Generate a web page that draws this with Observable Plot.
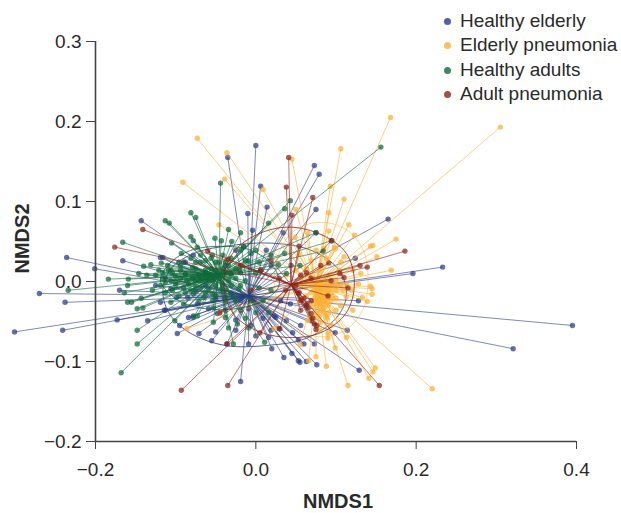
<!DOCTYPE html>
<html><head><meta charset="utf-8">
<script src="https://cdn.jsdelivr.net/npm/d3@7"></script>
<script src="https://cdn.jsdelivr.net/npm/@observablehq/plot@0.6"></script>
<style>
html,body{margin:0;padding:0;background:#fff}
#wrap{position:relative;width:621px;height:513px;font-family:"Liberation Sans",Arial,sans-serif}
#legend{position:absolute;left:444px;top:9px;font-size:19px;color:#2a2a2a;line-height:24.3px}
#legend div{white-space:nowrap}
#legend i{display:inline-block;width:7px;height:7px;border-radius:50%;margin-right:9px;vertical-align:2px}
</style></head><body><div id="wrap"><div id="legend"></div></div>
<script>
const groups = ["Healthy elderly","Elderly pneumonia","Healthy adults","Adult pneumonia"];
const colors = ["#2b3a86","#fbb034","#0f6a3a","#8c2318"];
const centroidX = [-0.009,0.075,-0.046,0.044];
const centroidY = [-0.018,-0.005,0.008,-0.004];

const elderlyPts = [[-.236,.030],[-.201,.016],[-.270,-.015],[-.238,-.026],[-.301,-.063],[-.241,-.061],[-.173,-.048],[-.166,.026],[-.143,.076],[-.170,-.011],[-.135,-.049],[-.098,-.065],[-.095,-.055],[-.071,-.065],[-.114,-.036],[-.119,-.026],[-.084,-.045],[-.090,.024],[-.116,.030],[.395,-.055],[.321,-.084],[.233,.018],[.196,.010],[.073,.145],[.079,.134],[.075,.090],[.165,.078],[0,.170],[-.035,.155],[.006,.119],[.014,.093],[-.010,.085],[-.055,-.074],[-.050,-.063],[-.036,-.078],[-.009,-.078],[.020,-.084],[.035,-.095],[.045,-.090],[.060,-.078],[.053,-.073],[.073,-.078],[.128,-.024],[.046,-.064],[.029,-.059],[.025,-.045],[.043,-.028],[.124,.029],[.114,-.061],[.099,-.064],[.075,.061],[.034,.061],[-.004,.064],[-.119,.030],[-.113,.004],[-.099,-.020],[-.073,-.028],[-.059,-.034],[-.009,-.034],[.009,-.046],[.053,-.099],[.055,-.101],[.063,-.100],[.076,-.104],[.129,-.111],[-.019,-.125],[.016,-.070],[.023,-.043],[-.075,-.012],[-.050,-.022],[-.038,-.036],[-.025,-.048],[-.019,-.024],[-.113,-.036],[-.078,-.043],[-.085,-.020],[-.031,-.014],[-.048,-.040],[-.019,-.036],[-.088,.024],[-.078,.033],[-.006,-.055],[-.025,-.061],[.038,-.049],[.056,-.055],[.019,-.061],[0,-.068],[.069,-.049],[.031,-.024],[.063,-.030],[-.038,.020],[-.025,.039],[.019,.020],[.013,.039],[.044,.020],[-.125,-.005],[-.063,-.005],[-.106,-.009]];
const elderlyPneumoniaPts = [[.168,.205],[.305,.193],[.106,.166],[.045,.153],[.093,.119],[.110,.103],[.091,.086],[.116,.071],[.091,.063],[.123,.058],[.175,.053],[.146,.045],[.143,.044],[.151,.031],[.169,.014],[.131,.010],[.110,.031],[.099,.041],[.065,.060],[.050,.090],[.049,.055],[-.073,.179],[-.036,.161],[-.091,.124],[-.039,.128],[.009,.115],[-.046,.071],[.220,-.134],[.115,-.130],[.141,-.121],[.146,-.113],[.149,-.108],[.088,-.106],[.066,-.099],[.075,-.094],[.099,-.083],[.090,-.071],[.113,-.070],[.055,-.079],[.090,-.065],[.023,-.059],[.139,-.025],[.145,-.016],[.133,-.020],[.143,-.006],[.145,-.009],[.128,-.003],[.085,.041],[.098,.043],[-.086,-.059],[-.045,-.039],[.054,.034],[.069,.026],[.073,-.011],[.079,-.018],[.084,-.024],[.076,-.030],[.081,-.036],[.088,-.043],[.075,-.039],[.094,-.014],[.100,-.021],[.106,-.030],[.089,-.005],[.100,.001],[.113,-.003],[.091,.008],[.104,.014],[.079,.014],[.066,.008],[.119,-.011],[.073,-.046],[.081,-.051],[.094,-.055],[.079,-.061],[.065,-.049],[.056,-.024],[.060,-.005],[.121,-.036],[.109,-.011],[.084,-.009],[.088,-.014],[.081,-.019],[.086,-.024],[.080,-.028],[.085,-.033],[.090,-.019],[.079,-.009],[.094,-.024],[.090,-.030],[.100,-.011],[.075,-.021],[.071,-.030],[.069,-.014],[.106,-.005],[.094,-.005],[.081,-.001],[.056,.004],[.069,.001],[.050,-.005],[.063,-.018],[.100,-.036],[.091,-.039],[.113,-.019],[.121,.014],[.106,.024],[.088,.029],[.075,.039],[.063,.016],[.050,.014],[.038,.008],[.076,-.009],[.081,-.014],[.079,-.024],[.084,-.029],[.089,-.024],[.084,-.019],[.076,-.016],[.074,-.024],[.091,-.011],[.096,-.018],[.069,-.006],[.063,-.001],[.056,-.004],[.088,.001],[.100,-.004],[.084,-.039],[.079,-.044],[.089,-.046]];
const adultsPts = [[-.168,-.114],[-.148,-.078],[-.148,-.061],[-.101,-.049],[-.234,-.011],[-.184,.003],[-.159,.003],[-.160,-.026],[-.155,-.026],[-.148,-.034],[-.141,-.033],[-.164,-.014],[-.160,-.005],[-.146,.010],[-.136,.008],[-.140,.019],[-.131,.021],[-.166,.049],[-.105,.048],[-.113,.076],[-.108,.073],[-.081,.086],[-.075,.080],[-.081,.056],[-.078,.051],[-.093,.035],[-.116,.011],[-.118,.023],[-.044,.123],[.043,.101],[.036,.091],[-.034,.065],[.016,.073],[.156,.168],[.075,.061],[.095,.051],[.084,.038],[.055,.020],[.036,.035],[.038,.010],[.028,.021],[-.051,.054],[-.043,.051],[-.030,.050],[-.019,.061],[-.015,.044],[-.143,-.021],[-.073,-.043],[-.078,-.045],[-.053,-.051],[-.038,-.045],[-.034,-.058],[-.023,-.053],[-.028,-.078],[.011,-.076],[-.009,-.058],[-.106,.014],[-.100,-.001],[-.094,.020],[-.088,.008],[-.081,-.011],[-.075,.016],[-.069,.001],[-.063,.014],[-.063,-.014],[-.096,-.018],[-.081,.029],[-.069,.033],[-.056,.029],[-.038,.024],[-.025,.016],[-.019,-.005],[-.029,-.018],[-.038,-.024],[-.054,-.024],[-.071,-.024],[-.013,.026],[0,.039],[.006,.014],[.019,.033],[-.031,.008],[-.050,-.005],[-.041,.016],[-.059,.001],[-.044,-.011],[-.073,.043],[-.054,.033],[-.041,.033],[-.110,.020],[-.094,.014],[-.109,.014],[-.104,.010],[-.088,.010],[-.079,.018],[-.031,.010],[-.021,.014],[-.010,.026],[-.006,.035],[-.015,.043],[-.113,-.001],[-.119,-.005],[-.100,-.005],[-.090,-.008],[-.106,-.026],[-.090,-.028],[-.113,-.014],[-.078,-.015],[-.065,-.020],[-.053,-.033],[-.038,-.020],[-.021,-.009],[-.013,.001],[0,.010],[.004,.024],[.004,-.008],[-.025,-.024],[-.075,.001],[-.056,.016],[-.069,.024],[-.084,-.003],[-.096,.024],[-.125,.008],[-.129,-.011],[-.050,.024],[-.054,-.015],[-.031,.029],[-.019,.039],[.009,-.024],[.019,-.011],[-.006,-.024],[0,-.039],[-.013,-.046],[.016,-.039],[-.063,.011],[-.056,.008],[-.054,.001],[-.038,.011],[-.034,.001],[-.041,-.005],[-.050,.014],[-.063,.001],[-.071,.008],[-.079,.004],[-.086,.001],[-.094,.004],[-.100,.006],[-.106,.001],[-.069,-.008],[-.059,-.009],[-.031,-.005],[-.025,.004],[-.019,.011],[-.038,-.011],[-.050,-.018],[-.075,-.008],[-.088,-.014],[-.104,-.011],[-.116,.004],[-.121,.014],[-.046,.024],[-.034,.020],[-.063,.026],[-.075,.024]];
const adultPneumoniaPts = [[-.176,.043],[-.141,.065],[-.093,-.136],[-.035,-.130],[-.045,-.039],[.005,-.064],[.154,-.130],[.030,-.059],[.041,.155],[.038,.118],[.071,.105],[.045,.083],[.186,.038],[.139,.018],[.091,.023],[.054,.044],[.105,.010],[-.036,-.078],[-.035,.028],[-.060,.038],[.029,.004],[.053,-.015],[.065,-.033],[.069,-.040],[.073,-.053],[.094,.051],[.115,-.008],[.006,.014],[.050,-.005],[.063,.011],[.081,.020],[.037,-.011],[.069,-.024],[.056,-.036],[.094,.001],[-.006,-.011],[-.019,.020],[.019,.026],[.075,-.060],[.090,-.018],[.110,.005],[.130,.020],[.054,-.014],[.060,-.021],[.064,-.028],[.056,-.024],[.071,-.046],[.076,-.055],[.056,.008],[.069,.004]];

// outlines of the dispersion ellipses, read around each curve
const elderlyOutline = [[-.116,-.014],[-.106,.016],[-.075,.036],[-.031,.045],[.019,.048],[.069,.039],[.104,.014],[.113,-.018],[.100,-.046],[.063,-.071],[.013,-.080],[-.038,-.080],[-.081,-.065],[-.106,-.043]];
const elderlyPneumoniaOutline = [[.081,.074],[.113,.065],[.134,.039],[.140,.003],[.134,-.034],[.113,-.060],[.081,-.069],[.050,-.060],[.030,-.034],[.023,.003],[.030,.039],[.050,.065]];
const adultsOutline = [[-.119,.001],[-.106,.024],[-.081,.039],[-.044,.044],[-.006,.039],[.021,.020],[.029,-.005],[.009,-.024],[-.025,-.034],[-.063,-.034],[-.096,-.024]];
const adultPneumoniaOutline = [[.041,.068],[.083,.058],[.113,.035],[.123,-.001],[.113,-.039],[.081,-.064],[.041,-.070],[0,-.061],[-.029,-.039],[-.040,-.001],[-.029,.035],[0,.058]];

const allPts = [elderlyPts,elderlyPneumoniaPts,adultsPts,adultPneumoniaPts];
const allOutlines = [elderlyOutline,elderlyPneumoniaOutline,adultsOutline,adultPneumoniaOutline];

const marks = [];
groups.forEach((g,i)=>{
  const rows = allPts[i].map(([x,y])=>({x,y}));
  marks.push(Plot.line(allOutlines[i],{x:d=>d[0],y:d=>d[1],curve:"catmull-rom-closed",stroke:colors[i],strokeWidth:1,strokeOpacity:i===1?0.5:0.8}));
  marks.push(Plot.link(rows,{x1:()=>centroidX[i],y1:()=>centroidY[i],x2:"x",y2:"y",stroke:colors[i],strokeWidth:1,strokeOpacity:0.6}));
  marks.push(Plot.dot(rows,{x:"x",y:"y",r:2.7,fill:colors[i],fillOpacity:0.72,stroke:"none"}));
});

const fmt = d3.format(".1f");
const plot = Plot.plot({
  width:621,height:513,marginLeft:95,marginRight:45,marginTop:41,marginBottom:72,
  style:{fontFamily:'"Liberation Sans",Arial,sans-serif',background:"transparent",overflow:"visible"},
  x:{domain:[-0.2,0.4]},y:{domain:[-0.2,0.3]},
  marks:[
    ...marks,
    Plot.ruleX([-0.2],{stroke:"#444",strokeWidth:1.6}),
    Plot.ruleY([-0.2],{stroke:"#444",strokeWidth:1.6}),
    Plot.axisX({ticks:[-0.2,0,0.2,0.4],tickFormat:fmt,tickSize:8,tickPadding:13,label:null,fontSize:19,fill:"#2a2a2a",stroke:"#444"}),
    Plot.axisY({ticks:[-0.2,-0.1,0,0.1,0.2,0.3],tickFormat:fmt,tickSize:9,tickPadding:5,label:null,fontSize:19,fill:"#2a2a2a",stroke:"#444"}),
    Plot.text(["NMDS1"],{frameAnchor:"bottom",dy:60,dx:2,text:d=>d,textAnchor:"middle",lineAnchor:"middle",fontWeight:"bold",fontSize:20,fill:"#2a2a2a"}),
    Plot.text(["NMDS2"],{frameAnchor:"left",text:d=>d,textAnchor:"middle",rotate:-90,dx:-73,dy:-3,fontWeight:"bold",fontSize:20,fill:"#2a2a2a"})
  ]
});
const wrap = document.getElementById("wrap");
wrap.appendChild(plot);
const lg = document.getElementById("legend");
groups.forEach((g,i)=>{
  const row=document.createElement("div");
  const dot=document.createElement("i");
  dot.style.background=colors[i];dot.style.opacity=0.8;
  row.appendChild(dot);row.appendChild(document.createTextNode(g));
  lg.appendChild(row);
});
wrap.appendChild(lg);
</script></body></html>
